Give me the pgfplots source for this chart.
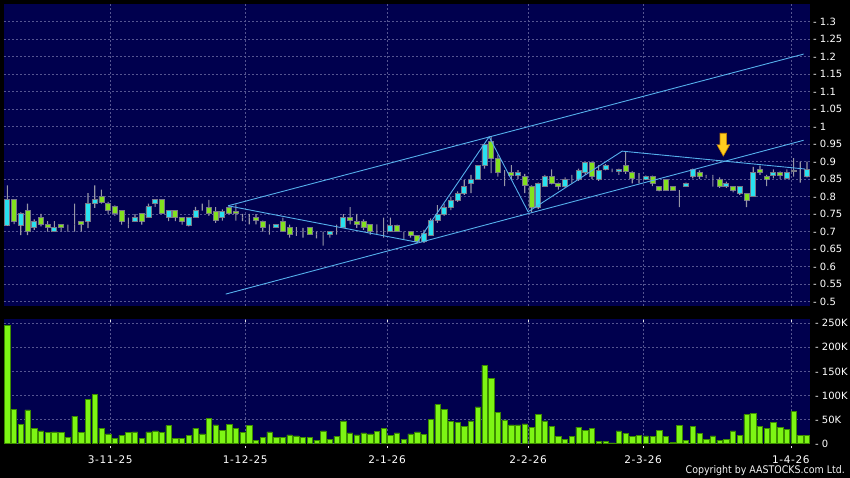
\documentclass[border=0pt]{standalone}
\usepackage{pgfplots}
\pgfplotsset{compat=1.18}
\usepackage{pgfplotstable}
\usepackage{fontspec}
\setmainfont{DejaVu Sans}
\newfontfamily\condfont{DejaVu Sans}[FakeStretch=0.9]

\definecolor{navy}{RGB}{0,0,78}
\definecolor{gridc}{RGB}{85,85,145}
\definecolor{upc}{RGB}{40,225,240}
\definecolor{dnc}{RGB}{130,225,30}
\definecolor{outl}{RGB}{120,120,135}
\definecolor{wickc}{RGB}{150,150,165}
\definecolor{volc}{RGB}{125,245,20}
\definecolor{voledge}{RGB}{60,140,0}
\definecolor{linec}{RGB}{85,175,235}
\definecolor{arrowc}{RGB}{255,205,30}
\definecolor{arrowe}{RGB}{200,130,0}

\pgfplotstableread{
x O H L C
0 0.719 0.832 0.717 0.792
1 0.792 0.792 0.722 0.730
2 0.719 0.755 0.690 0.751
3 0.760 0.780 0.690 0.700
4 0.711 0.735 0.705 0.730
5 0.740 0.751 0.715 0.720
6 0.720 0.730 0.700 0.711
7 0.700 0.730 0.700 0.711
8 0.720 0.720 0.700 0.711
9 0.720 0.720 0.700 0.720
10 0.720 0.780 0.700 0.720
11 0.730 0.730 0.700 0.720
12 0.730 0.810 0.710 0.780
13 0.780 0.832 0.768 0.791
14 0.800 0.820 0.780 0.784
15 0.780 0.785 0.750 0.760
16 0.771 0.775 0.745 0.751
17 0.760 0.762 0.720 0.730
18 0.720 0.740 0.710 0.720
19 0.730 0.750 0.730 0.740
20 0.751 0.751 0.720 0.730
21 0.740 0.780 0.740 0.771
22 0.780 0.791 0.771 0.791
23 0.791 0.791 0.751 0.751
24 0.740 0.760 0.730 0.760
25 0.760 0.760 0.730 0.740
26 0.740 0.740 0.720 0.730
27 0.719 0.740 0.715 0.740
28 0.740 0.771 0.740 0.760
29 0.771 0.780 0.760 0.771
30 0.770 0.791 0.745 0.751
31 0.759 0.770 0.725 0.732
32 0.740 0.764 0.732 0.759
33 0.770 0.775 0.750 0.753
34 0.759 0.778 0.732 0.751
35 0.740 0.751 0.730 0.740
36 0.740 0.751 0.721 0.740
37 0.740 0.750 0.721 0.732
38 0.730 0.732 0.700 0.711
39 0.711 0.721 0.692 0.711
40 0.711 0.721 0.711 0.721
41 0.730 0.740 0.700 0.700
42 0.711 0.720 0.683 0.692
43 0.700 0.713 0.688 0.700
44 0.700 0.711 0.683 0.700
45 0.711 0.711 0.692 0.692
46 0.692 0.700 0.681 0.692
47 0.692 0.700 0.660 0.692
48 0.692 0.700 0.683 0.700
49 0.700 0.720 0.692 0.700
50 0.711 0.750 0.711 0.740
51 0.740 0.770 0.721 0.732
52 0.730 0.751 0.711 0.721
53 0.730 0.735 0.705 0.711
54 0.721 0.721 0.692 0.700
55 0.700 0.721 0.692 0.700
56 0.700 0.740 0.683 0.700
57 0.701 0.740 0.700 0.719
58 0.719 0.720 0.700 0.700
59 0.700 0.700 0.678 0.700
60 0.700 0.700 0.683 0.690
61 0.690 0.690 0.668 0.672
62 0.672 0.705 0.668 0.695
63 0.690 0.738 0.690 0.732
64 0.732 0.776 0.725 0.750
65 0.750 0.780 0.745 0.769
66 0.770 0.800 0.762 0.789
67 0.790 0.815 0.785 0.810
68 0.810 0.848 0.805 0.830
69 0.838 0.862 0.810 0.850
70 0.850 0.890 0.850 0.888
71 0.888 0.950 0.880 0.948
72 0.957 0.970 0.867 0.910
73 0.910 0.920 0.857 0.869
74 0.857 0.876 0.830 0.857
75 0.869 0.890 0.848 0.860
76 0.860 0.876 0.850 0.869
77 0.857 0.865 0.810 0.831
78 0.829 0.832 0.757 0.770
79 0.770 0.840 0.765 0.838
80 0.830 0.862 0.830 0.857
81 0.857 0.878 0.835 0.838
82 0.838 0.840 0.820 0.830
83 0.830 0.855 0.825 0.848
84 0.848 0.862 0.838 0.848
85 0.850 0.880 0.845 0.876
86 0.868 0.898 0.862 0.897
87 0.897 0.900 0.850 0.857
88 0.850 0.890 0.845 0.876
89 0.879 0.893 0.875 0.889
90 0.876 0.880 0.870 0.876
91 0.871 0.880 0.862 0.878
92 0.889 0.929 0.865 0.871
93 0.870 0.872 0.838 0.852
94 0.852 0.867 0.838 0.852
95 0.850 0.860 0.848 0.857
96 0.857 0.860 0.830 0.838
97 0.829 0.830 0.815 0.819
98 0.850 0.850 0.819 0.819
99 0.829 0.829 0.819 0.819
100 0.819 0.819 0.770 0.819
101 0.829 0.840 0.829 0.838
102 0.859 0.880 0.852 0.878
103 0.869 0.875 0.850 0.859
104 0.857 0.862 0.852 0.857
105 0.857 0.862 0.829 0.857
106 0.850 0.855 0.825 0.829
107 0.829 0.843 0.825 0.838
108 0.829 0.829 0.812 0.819
109 0.810 0.829 0.805 0.829
110 0.810 0.810 0.770 0.790
111 0.800 0.885 0.800 0.869
112 0.878 0.889 0.862 0.869
113 0.859 0.862 0.830 0.850
114 0.860 0.878 0.852 0.870
115 0.870 0.872 0.850 0.860
116 0.851 0.878 0.850 0.870
117 0.876 0.910 0.857 0.871
118 0.871 0.900 0.840 0.871
119 0.859 0.900 0.855 0.878
}\ohlc

\pgfplotstableread{
x V
0 246
1 71.5
2 40
3 70
4 32
5 26
6 23
7 24
8 23
9 12
10 57
11 23
12 92
13 102
14 32
15 20
16 11
17 17
18 23
19 24
20 11
21 24
22 26
23 23
24 37
25 11
26 11
27 17
28 32
29 20
30 53
31 39
32 27
33 40
34 31
35 23
36 37
37 7
38 13
39 24
40 13
41 13
42 18
43 16
44 12
45 12
46 7
47 26
48 9
49 15
50 47
51 22
52 18
53 22
54 20
55 25
56 31
57 17
58 22
59 9
60 20
61 24
62 19
63 50
64 81
65 71
66 46
67 44
68 36
69 47
70 76
71 163
72 135
73 65
74 49
75 39
76 39
77 41
78 34
79 61
80 47
81 35
82 15
83 8
84 15
85 34
86 28
87 32
88 4
89 5
90 1.5
91 26
92 21
93 15
94 17
95 16
96 15
97 27
98 15
99 3
100 37
101 7
102 35
103 21
104 9
105 16
106 7
107 9
108 26
109 17
110 60
111 63
112 35
113 31
114 44
115 33
116 30
117 67
118 17
119 17
}\vol

\pgfplotsset{
  panel/.style={
    scale only axis, anchor=south west, width=806pt,
    xmin=-0.5, xmax=119.45,
    axis line style={draw=none},
    xtick={15.3,35.4,56.5,77.5,94.6,116.6},
    major grid style={gridc, dash pattern=on 2pt off 2pt, line width=0.6pt},
    xmajorgrids, ymajorgrids,
    axis background/.style={fill=navy},
    yticklabel pos=right,
    yticklabel style={text=white, anchor=west, inner sep=0pt, xshift=3pt, font=\fontsize{10}{12}\selectfont},
    ytick style={draw=none},
  },
}

\begin{document}
\begin{tikzpicture}[x=1pt,y=1pt]
\fill[black] (0,0) rectangle (850,478);
\path[use as bounding box] (0,0) rectangle (850,478);

% price panel
\begin{axis}[panel, at={(4pt,172pt)}, height=302pt,
  ymin=0.488, ymax=1.35,
  ybar stacked,
  xticklabels={}, xtick style={draw=none},
  ytick={0.5,0.55,0.6,0.65,0.7,0.75,0.8,0.85,0.9,0.95,1,1.05,1.1,1.15,1.2,1.25,1.3},
  yticklabels={- 0.5,- 0.55,- 0.6,- 0.65,- 0.7,- 0.75,- 0.8,- 0.85,- 0.9,- 0.95,- 1,- 1.05,- 1.1,- 1.15,- 1.2,- 1.25,- 1.3},
]
% invisible base up to the low
\addplot[draw=none, fill=none, bar width=1pt] table[x=x, y=L] {\ohlc};
% lower wick: low to bottom of body
\addplot[draw=none, fill=wickc, bar width=1.1pt] table[x=x, y expr={min(\thisrow{O},\thisrow{C})-\thisrow{L}}] {\ohlc};
% rising bodies
\addplot[fill=upc, draw=outl, line width=0.8pt, bar width=5pt] table[x=x, y expr={max(\thisrow{C}-\thisrow{O},0)}] {\ohlc};
% falling bodies
\addplot[fill=dnc, draw=outl, line width=0.8pt, bar width=5pt] table[x=x, y expr={max(\thisrow{O}-\thisrow{C},0)}] {\ohlc};
% upper wick: top of body to high
\addplot[draw=none, fill=wickc, bar width=1.1pt] table[x=x, y expr={\thisrow{H}-max(\thisrow{O},\thisrow{C})}] {\ohlc};
\end{axis}

% trend lines and arrow
\begin{axis}[scale only axis, anchor=south west, at={(4pt,172pt)}, width=806pt, height=302pt,
  xmin=-0.5, xmax=119.45, ymin=0.488, ymax=1.35, hide axis]
\addplot[linec, line width=0.9pt] coordinates {(32.84,0.774) (118.5,1.207)};
\addplot[linec, line width=0.9pt] coordinates {(32.5,0.522) (118.5,0.961)};
\addplot[linec, line width=0.9pt] coordinates {(32.84,0.774) (61,0.670)};
\addplot[linec, line width=0.9pt] coordinates {(61,0.670) (71.7,0.971) (77.5,0.757) (91.5,0.930) (118.7,0.879)};
\addplot[fill=arrowc, draw=arrowe, line width=0.6pt] coordinates {(106.06,0.981) (107.04,0.981) (107.04,0.948) (107.49,0.948) (106.55,0.916) (105.61,0.948) (106.06,0.948)} -- cycle;
\end{axis}

% volume panel
\begin{axis}[panel, at={(4pt,34.5pt)}, height=124.5pt,
  ymin=0, ymax=259,
  ytick={0,50,100,150,200,250},
  yticklabels={- 0,- 50K,- 100K,- 150K,- 200K,- 250K},
  xticklabels={3-11-25,1-12-25,2-1-26,2-2-26,2-3-26,1-4-26},
  xticklabel style={text=white, anchor=center, yshift=-14pt, font=\fontsize{10.5}{12}\selectfont\addfontfeature{LetterSpace=6}},
  tick align=outside, major tick length=2pt,
  xtick style={draw=white!80!gray, line width=0.6pt, yshift=-3pt},
]
\addplot[ybar, bar width=5.3pt, fill=volc, draw=voledge, line width=0.5pt] table[x=x, y=V] {\vol};
\end{axis}

\node[anchor=east, inner sep=0pt, text=white!90!gray, font=\condfont\fontsize{10.5}{12}\selectfont] at (845,7) {Copyright by AASTOCKS.com Ltd.};
\end{tikzpicture}
\end{document}
